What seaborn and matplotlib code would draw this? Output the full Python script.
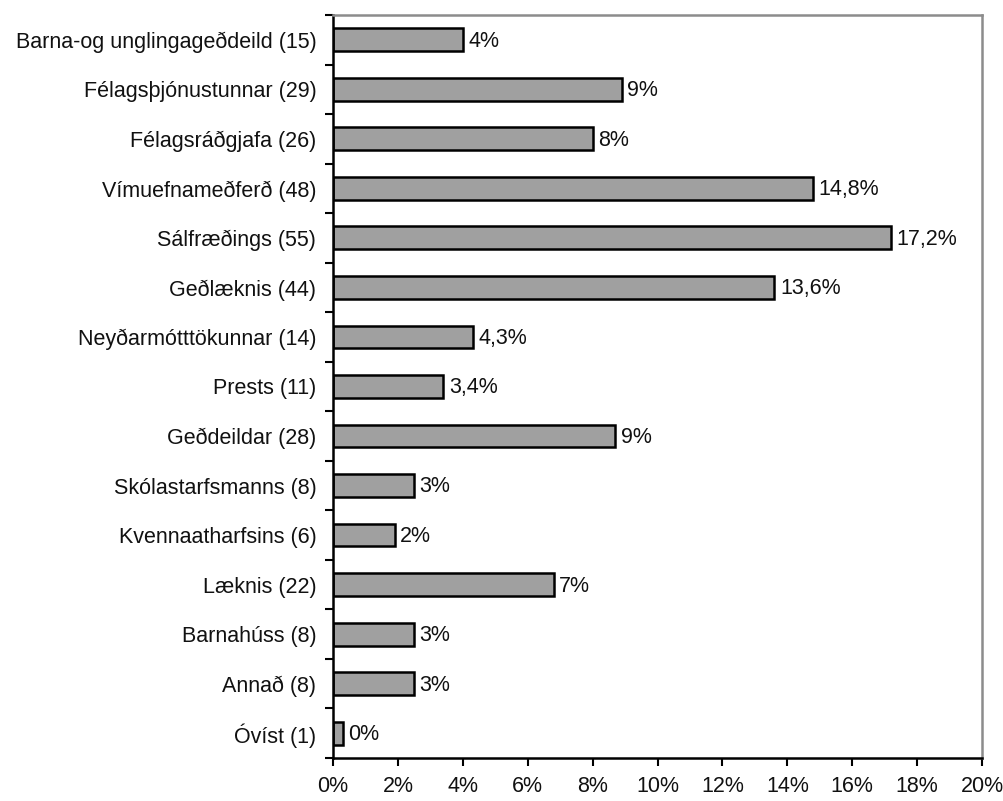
import numpy as np
import pandas as pd
import matplotlib
matplotlib.use('Agg')
import matplotlib.pyplot as plt
import seaborn as sns
from matplotlib.ticker import FixedLocator, PercentFormatter

# Data -------------------------------------------------------------------------

categories = ['Barna-og unglingageðdeild (15)', 'Félagsþjónustunnar (29)',
              'Félagsráðgjafa (26)', 'Vímuefnameðferð (48)', 'Sálfræðings (55)',
              'Geðlæknis (44)', 'Neyðarmótttökunnar (14)', 'Prests (11)',
              'Geðdeildar (28)', 'Skólastarfsmanns (8)', 'Kvennaatharfsins (6)',
              'Læknis (22)', 'Barnahúss (8)', 'Annað (8)', 'Óvíst (1)']
percent = [4.0, 8.9, 8.0, 14.8, 17.2, 13.6, 4.3, 3.4, 8.7, 2.5, 1.9, 6.8,
           2.5, 2.5, 0.3]
bar_labels = ['4%', '9%', '8%', '14,8%', '17,2%', '13,6%', '4,3%', '3,4%',
              '9%', '3%', '2%', '7%', '3%', '3%', '0%']
x_ticks = list(range(0, 21, 2))

df = pd.DataFrame({'category': categories, 'percent': percent})

# Plot ---------------------------------------------------------------------------

sns.set_style('white')
plt.rcParams['font.family'] = ['Liberation Sans', 'DejaVu Sans']

fig = plt.figure(figsize=(10.04, 8.01), dpi=100)
ax = fig.add_axes([0.3317, 0.0537, 0.6464, 0.9276])

sns.barplot(data=df, x='percent', y='category', orient='h', color='#a0a0a0',
            saturation=1, width=0.46, edgecolor='black', linewidth=1.8, ax=ax)

for i, (val, txt) in enumerate(zip(percent, bar_labels)):
    ax.annotate(txt, xy=(val, i), xytext=(4, -1), textcoords='offset points',
                va='center', ha='left', fontsize=15.5, color='#111111')

ax.set_xlim(0, 20)
ax.set_ylim(len(categories) - 0.5, -0.5)
ax.set_xticks(x_ticks)
ax.xaxis.set_major_formatter(PercentFormatter(decimals=0))
ax.set_xlabel('')
ax.set_ylabel('')

# y ticks sit between the categories, like the original
ax.yaxis.set_minor_locator(FixedLocator(np.arange(-0.5, len(categories), 1)))
ax.tick_params(axis='y', which='major', length=0, pad=12, labelsize=15.5,
               labelcolor='#111111')
ax.tick_params(axis='y', which='minor', length=6, width=1.5, color='black',
               direction='out', left=True)
ax.tick_params(axis='x', which='major', length=6, width=1.5, color='black',
               direction='out', bottom=True, pad=7, labelsize=15.5,
               labelcolor='#111111')

for side in ['left', 'bottom']:
    ax.spines[side].set_color('black')
    ax.spines[side].set_linewidth(1.8)
for side in ['top', 'right']:
    ax.spines[side].set_color('#8c8c8c')
    ax.spines[side].set_linewidth(1.8)

fig.savefig('out.png', dpi=100)
